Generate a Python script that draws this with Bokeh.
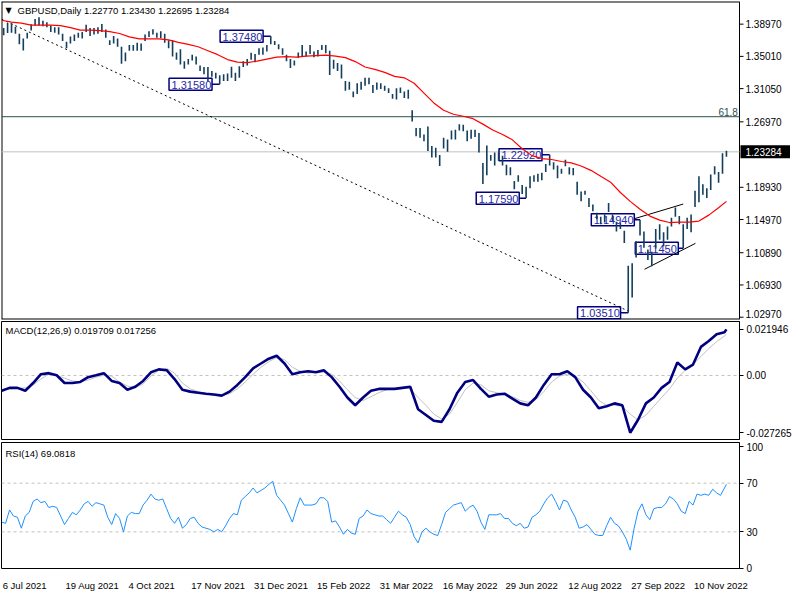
from bokeh.plotting import figure
from bokeh.models import (Range1d, FixedTicker, Span, Label, LinearAxis,
                          ColumnDataSource)
from bokeh.layouts import column
from bokeh.embed import file_html
from bokeh.resources import INLINE
from bokeh.core.properties import value

# ---------------- data ----------------
# x = trading-day index, 0 = 6 Jul 2021 ; every other daily bar is drawn
bar_day = list(range(1, 370, 2))
bar_high = [
    1.3850, 1.3910, 1.3908, 1.3866, 1.3780, 1.3720, 1.3790, 1.3895, 1.3960, 1.3983,
    1.3940, 1.3920, 1.3880, 1.3860, 1.3860, 1.3780, 1.3680, 1.3745, 1.3770, 1.3790,
    1.3800, 1.3891, 1.3850, 1.3850, 1.3860, 1.3900, 1.3830, 1.3700, 1.3750, 1.3720,
    1.3620, 1.3550, 1.3640, 1.3640, 1.3670, 1.3660, 1.3770, 1.3810, 1.3834, 1.3790,
    1.3810, 1.3780, 1.3700, 1.3700, 1.3550, 1.3590, 1.3440, 1.3470, 1.3520, 1.3500,
    1.3390, 1.3370, 1.3370, 1.3320, 1.3300, 1.3270, 1.3280, 1.3290, 1.3374, 1.3300,
    1.3380, 1.3440, 1.3470, 1.3545, 1.3530, 1.3600, 1.3610, 1.3640, 1.3748, 1.3690,
    1.3650, 1.3600, 1.3520, 1.3470, 1.3450, 1.3550, 1.3640, 1.3560, 1.3640, 1.3560,
    1.3580, 1.3640, 1.3640, 1.3570, 1.3460, 1.3420, 1.3400, 1.3200, 1.3190, 1.3070,
    1.3170, 1.3190, 1.3240, 1.3240, 1.3150, 1.3180, 1.3170, 1.3140, 1.3110, 1.3040,
    1.3110, 1.3120, 1.3070, 1.3090, 1.2840, 1.2620, 1.2620, 1.2540, 1.2640, 1.2400,
    1.2380, 1.2290, 1.2500, 1.2480, 1.2590, 1.2600, 1.2667, 1.2660, 1.2590, 1.2600,
    1.2600, 1.2560, 1.2190, 1.2406, 1.2290, 1.2320, 1.2320, 1.2280, 1.2170, 1.2140,
    1.1970, 1.2040, 1.1920, 1.1900, 1.2030, 1.2040, 1.2060, 1.2070, 1.2180, 1.2293,
    1.2200, 1.2160, 1.2120, 1.2230, 1.2140, 1.2130, 1.1960, 1.1840, 1.1850, 1.1760,
    1.1680, 1.1580, 1.1530, 1.1560, 1.1700, 1.1560, 1.1470, 1.1460, 1.1360, 1.0930,
    1.0960, 1.1230, 1.1495, 1.1350, 1.1130, 1.1100, 1.1380, 1.1440, 1.1340, 1.1410,
    1.1520, 1.1645, 1.1540, 1.1440, 1.1520, 1.1560, 1.1850, 1.2029, 1.1930, 1.1880,
    1.2050, 1.2150, 1.2080, 1.2310, 1.2343]
bar_low = [
    1.3760, 1.3787, 1.3790, 1.3780, 1.3650, 1.3572, 1.3720, 1.3818, 1.3880, 1.3880,
    1.3870, 1.3860, 1.3800, 1.3790, 1.3770, 1.3690, 1.3602, 1.3660, 1.3690, 1.3730,
    1.3720, 1.3800, 1.3750, 1.3770, 1.3780, 1.3800, 1.3730, 1.3640, 1.3660, 1.3620,
    1.3412, 1.3440, 1.3570, 1.3570, 1.3570, 1.3570, 1.3690, 1.3740, 1.3770, 1.3730,
    1.3725, 1.3670, 1.3600, 1.3500, 1.3460, 1.3400, 1.3350, 1.3400, 1.3450, 1.3400,
    1.3320, 1.3280, 1.3195, 1.3250, 1.3230, 1.3160, 1.3200, 1.3200, 1.3240, 1.3200,
    1.3240, 1.3370, 1.3390, 1.3460, 1.3430, 1.3520, 1.3520, 1.3560, 1.3650, 1.3640,
    1.3590, 1.3520, 1.3440, 1.3358, 1.3390, 1.3480, 1.3500, 1.3500, 1.3530, 1.3490,
    1.3500, 1.3580, 1.3540, 1.3273, 1.3350, 1.3320, 1.3230, 1.3080, 1.3090, 1.3000,
    1.3040, 1.3090, 1.3140, 1.3160, 1.3050, 1.3090, 1.3100, 1.3080, 1.3050, 1.2980,
    1.2970, 1.3050, 1.2990, 1.2980, 1.2700, 1.2520, 1.2500, 1.2460, 1.2340, 1.2260,
    1.2260, 1.2155, 1.2370, 1.2330, 1.2480, 1.2480, 1.2590, 1.2580, 1.2460, 1.2490,
    1.2510, 1.2320, 1.1934, 1.2040, 1.2220, 1.2160, 1.2220, 1.2160, 1.2040, 1.2040,
    1.1870, 1.1960, 1.1810, 1.1760, 1.1880, 1.1960, 1.1960, 1.1980, 1.2080, 1.2160,
    1.2110, 1.2005, 1.2060, 1.2150, 1.2050, 1.2040, 1.1800, 1.1720, 1.1800, 1.1650,
    1.1600, 1.1500, 1.1440, 1.1460, 1.1590, 1.1480, 1.1350, 1.1380, 1.1210, 1.0351,
    1.0540, 1.1030, 1.1300, 1.1150, 1.1000, 1.0924, 1.1140, 1.1250, 1.1170, 1.1250,
    1.1410, 1.1530, 1.1440, 1.1145, 1.1380, 1.1340, 1.1650, 1.1710, 1.1800, 1.1760,
    1.1860, 1.2050, 1.1950, 1.2060, 1.22695]

ma_day = list(range(0, 366, 5)) + [369]
ma_val = [
    1.3945, 1.3921, 1.3909, 1.3885, 1.3885, 1.3885, 1.3879, 1.3855, 1.3824, 1.3824,
    1.3818, 1.3806, 1.3782, 1.3740, 1.3716, 1.3716, 1.3716, 1.3703, 1.3673, 1.3649,
    1.3619, 1.3571, 1.3522, 1.3462, 1.3431, 1.3425, 1.3443, 1.3468, 1.3492, 1.3498,
    1.3492, 1.3504, 1.3510, 1.3516, 1.3504, 1.3486, 1.3437, 1.3371, 1.3341, 1.3304,
    1.3256, 1.3238, 1.3171, 1.3050, 1.2929, 1.2839, 1.2790, 1.2766, 1.2736, 1.2669,
    1.2597, 1.2542, 1.2476, 1.2367, 1.2282, 1.2246, 1.2234, 1.2210, 1.2192, 1.2155,
    1.2101, 1.2028, 1.1956, 1.1829, 1.1720, 1.1623, 1.1539, 1.1490, 1.1460, 1.1466,
    1.1466, 1.1478, 1.1551, 1.1641, 1.1720]

macd_day = list(range(0, 369, 4)) + [369]
macd_main = [v / 1000 for v in [
    -7.3, -5.9, -5.9, -7.3, -3.6, 0.6, 1.1, 0.1, -3.6, -3.6,
    -3.1, -0.8, 0.1, 1.1, -2.6, -3.6, -6.8, -5.4, -2.6, 1.5,
    2.9, 2.5, -1.7, -6.8, -7.7, -8.2, -8.7, -9.1, -9.6, -7.7,
    -4.5, -0.8, 3.4, 5.7, 8.0, 9.4, 5.7, 0.6, 1.5, 2.0,
    1.5, 2.5, -0.8, -5.4, -10.5, -14.2, -10.5, -7.3, -6.4, -6.4,
    -6.4, -5.9, -5.4, -16.1, -18.8, -21.6, -22.1, -16.1, -8.2, -3.1,
    -2.2, -6.4, -10.1, -9.1, -8.7, -11.0, -13.3, -14.2, -10.5, -4.5,
    0.6, 0.6, 2.0, -0.8, -6.8, -10.5, -15.6, -14.7, -13.3, -14.2,
    -27.265, -21.1, -13.3, -10.5, -5.9, -3.1, 6.2, 2.9, 5.2, 13.6,
    16.4, 19.6, 20.6, 21.946]]
macd_signal = [v / 1000 for v in [
    -6.8, -6.4, -6.1, -5.9, -4.5, -1.7, 0.6, 0.1, -1.3, -2.6,
    -3.1, -2.2, -0.8, 0.1, -0.3, -3.1, -5.0, -5.9, -4.0, -0.3,
    2.5, 3.4, 1.1, -3.6, -6.4, -7.7, -8.7, -9.4, -9.6, -8.7,
    -6.4, -3.1, 0.6, 3.9, 6.6, 8.5, 7.6, 3.9, 2.0, 1.1,
    1.5, 1.5, 0.6, -2.6, -6.8, -10.5, -11.9, -10.1, -8.2, -6.8,
    -6.4, -5.9, -6.4, -10.5, -14.2, -18.4, -20.7, -18.4, -12.8, -6.8,
    -3.6, -4.5, -7.3, -8.2, -8.7, -10.1, -11.9, -12.8, -11.5, -7.7,
    -3.1, -0.3, 0.6, -0.3, -3.1, -7.3, -11.9, -14.2, -14.2, -14.7,
    -18.4, -21.2, -18.9, -14.7, -10.5, -6.4, -1.3, 2.5, 5.3, 9.0,
    12.8, 16.1, 18.8, 19.6]]

rsi_day = list(range(0, 369, 2)) + [369]
rsi_val = [
    38, 37, 48, 43, 42, 33, 43, 46, 55, 57,
    54, 55, 50, 51, 50, 43, 36, 41, 46, 44,
    48, 53, 55, 51, 54, 53, 52, 42, 36, 45,
    41, 30, 43, 46, 45, 45, 52, 56, 61, 57,
    56, 57, 49, 41, 37, 42, 33, 36, 41, 42,
    37, 34, 33, 32, 30, 32, 30, 35, 41, 45,
    44, 56, 59, 62, 66, 62, 64, 66, 69, 71.5,
    60, 56, 52, 45, 38, 49, 58, 52, 52, 52,
    53, 58, 58, 55, 38, 39, 34, 28, 32, 29,
    28, 41, 43, 48, 45, 44, 43, 43, 40, 37,
    42, 47, 44, 42, 36, 26, 21, 30, 33, 30,
    28, 27, 36, 46, 49, 52, 53, 54, 47, 50,
    52, 47, 38, 32, 44, 44, 44, 45, 41, 41,
    37, 35, 37, 33, 34, 42, 44, 47, 53, 58,
    61, 55, 48, 56, 55, 48, 42, 33, 34, 36,
    32, 28, 27, 27, 35, 42, 37, 35, 30, 24,
    15, 33, 47, 53, 44, 40, 49, 50, 50, 53,
    59, 57, 53, 47, 45, 55, 52, 61, 60, 61,
    60, 65, 62, 60, 66, 69.0818]

price_ticks = [1.3897, 1.3501, 1.3105, 1.2697, 1.1893, 1.1497, 1.1089, 1.0693, 1.0297]
last_price = 1.23284
fib_level = 1.2760
fib_text = "61.8"
header_main = "GBPUSD,Daily 1.22770 1.23430 1.22695 1.23284"
header_macd = "MACD(12,26,9) 0.019709 0.017256"
header_rsi = "RSI(14) 69.0818"
macd_ticks = [-0.027265, 0.0, 0.021946]
rsi_ticks = [0, 30, 70, 100]
date_ticks = [0, 32, 64, 96, 128, 160, 192, 224, 256, 288, 320, 352]
date_labels = ["6 Jul 2021", "19 Aug 2021", "4 Oct 2021", "17 Nov 2021", "31 Dec 2021",
               "15 Feb 2022", "31 Mar 2022", "16 May 2022", "29 Jun 2022", "12 Aug 2022",
               "27 Sep 2022", "10 Nov 2022"]

# swing-point labels: value, bar of the swing, day where the label box starts
swing_val = [1.3748, 1.3158, 1.2292, 1.1759, 1.1494, 1.1145, 1.0351]
swing_text = ["1.37480", "1.31580", "1.22920", "1.17590", "1.14940", "1.11450", "1.03510"]
swing_day = [137, 111, 279, 267, 325, 347, 319]
swing_box_day = [111.2, 85.2, 253.2, 241.6, 300.2, 322.6, 293.2]

trend_day = [0, 319]
trend_val = [1.3957, 1.0373]
chan_up_day = [322, 347]
chan_up_val = [1.1506, 1.1687]
chan_lo_day = [327.3, 353.2]
chan_lo_val = [1.0886, 1.1204]

# ---------------- style ----------------
FONT = "Liberation Sans"
FW = 738          # chart frame width (px)
AXW = 51          # price-scale strip of the main panel (px)
H1, H2, H3 = 318, 118, 126
X0, X1 = -0.1, 375.65
Y0, Y1 = 1.02688, 1.41752
BAR = "#133f5c"
NAVY = "#000080"
HDR_PX = "9.5px"
px_per_day = FW / (X1 - X0)
px_per_price = H1 / (Y1 - Y0)

x_range = Range1d(X0, X1)


def style_axis(ax):
    ax.axis_line_color = "black"
    ax.major_tick_in = 0
    ax.major_tick_out = 4
    ax.minor_tick_line_color = None
    ax.major_label_text_font = FONT
    ax.major_label_text_font_size = "10px"
    ax.major_label_text_color = "black"
    ax.major_label_standoff = 3


def base(fh, yr, top=1, bottom=1):
    p = figure(frame_width=FW, frame_height=fh, x_range=x_range, y_range=yr,
               y_axis_location="right", x_axis_location=None,
               output_backend="svg", toolbar_location=None,
               min_border_left=1, min_border_top=top, min_border_bottom=bottom,
               min_border_right=0, background_fill_color="white",
               border_fill_color="white")
    p.xgrid.visible = False
    p.ygrid.visible = False
    p.outline_line_color = "black"
    p.outline_line_width = 1
    style_axis(p.yaxis[0])
    return p


# ---------- main price panel (its price scale drawn inside an extended frame) ----------
XR = X1 + AXW / px_per_day
p1 = figure(frame_width=FW + AXW, frame_height=H1, x_range=Range1d(X0, XR),
            y_range=Range1d(Y0, Y1), x_axis_location=None, y_axis_location=None,
            output_backend="svg", toolbar_location=None, min_border_left=1,
            min_border_top=1, min_border_bottom=1, min_border_right=0,
            background_fill_color="white", border_fill_color="white")
p1.xgrid.visible = False
p1.ygrid.visible = False
p1.outline_line_color = None

# frame of the chart area
p1.segment(x0=[X0, X0, X0], y0=[Y0, Y1, Y0], x1=[X1, X1, X0], y1=[Y0, Y1, Y1],
           line_color="black", line_width=2)
p1.segment(x0=[X1], y0=[Y0], x1=[X1], y1=[Y1], line_color="black", line_width=1)

# horizontal levels
p1.segment(x0=[X0], y0=[fib_level], x1=[X1], y1=[fib_level], line_color="#2f4f4f",
           line_width=1)
p1.segment(x0=[X0], y0=[last_price], x1=[X1], y1=[last_price], line_color="#c0c0c0",
           line_width=1)
p1.text(x=[X1 - 0.8], y=[fib_level], text=[fib_text], text_align="right",
        text_baseline="bottom", y_offset=-1, text_font=value(FONT),
        text_font_size="10px", text_color="#2f4f4f")

# swing labels (box + text + connector)
box_w = 43 / px_per_day
box_h = 12 / px_per_price
p1.quad(left=swing_box_day, right=[b + box_w for b in swing_box_day],
        bottom=[v - box_h / 2 for v in swing_val], top=[v + box_h / 2 for v in swing_val],
        fill_color=None, line_color=NAVY, line_width=1.5)
p1.segment(x0=[b + box_w for b in swing_box_day], y0=swing_val, x1=swing_day, y1=swing_val,
           line_color=NAVY, line_width=1.5)
p1.text(x=swing_box_day, y=swing_val, text=swing_text, x_offset=2.5, y_offset=0.5,
        text_align="left", text_baseline="middle", text_font=value(FONT),
        text_font_size="11px", text_color="#2828a8")

p1.line(trend_day, trend_val, line_color="black", line_width=1, line_dash="2 3")
p1.line(chan_up_day, chan_up_val, line_color="black", line_width=1)
p1.line(chan_lo_day, chan_lo_val, line_color="black", line_width=1)

bars = ColumnDataSource(dict(day=bar_day, high=bar_high, low=bar_low))
p1.segment(x0="day", y0="low", x1="day", y1="high", source=bars,
           line_color=BAR, line_width=1.6)
p1.line(ma_day, ma_val, line_color="#ff0000", line_width=1.2)

# price scale: ticks, labels, current-price box
tick_len = 4 / px_per_day
p1.segment(x0=[X1] * len(price_ticks), y0=price_ticks,
           x1=[X1 + tick_len] * len(price_ticks), y1=price_ticks, line_color="black")
label_off = [(-3 if (t - Y0) * px_per_price < 7 else 0) for t in price_ticks]
p1.text(x=[X1] * len(price_ticks), y=price_ticks, text=["%.5f" % t for t in price_ticks],
        x_offset=6, y_offset=label_off, text_align="left", text_baseline="middle",
        text_font=value(FONT), text_font_size="10px", text_color="black")
p1.quad(left=[X1 + 1 / px_per_day], right=[XR], bottom=[last_price - 6.5 / px_per_price],
        top=[last_price + 6.5 / px_per_price], fill_color="black", line_color=None)
p1.text(x=[X1], y=[last_price], text=["%.5f" % last_price], x_offset=6,
        text_align="left", text_baseline="middle", text_font=value(FONT),
        text_font_size="10px", text_color="white")

p1.add_layout(Label(x=4, y=H1 - 9, x_units="screen", y_units="screen", text="\u25bc",
                    text_font="DejaVu Sans", text_font_size="8px", text_color="black",
                    text_baseline="middle"))
p1.add_layout(Label(x=16, y=H1 - 9, x_units="screen", y_units="screen", text=header_main,
                    text_font=FONT, text_font_size=HDR_PX, text_color="black",
                    text_baseline="middle"))

# ---------- MACD panel ----------
p2 = base(H2, Range1d(-0.0305, 0.0257))
p2.yaxis[0].ticker = FixedTicker(ticks=macd_ticks)
p2.yaxis[0].major_label_overrides = {t: ("0.00" if t == 0 else "%.6f" % t) for t in macd_ticks}
p2.add_layout(Span(location=0, dimension="width", line_color="#c0c0c0",
                   line_width=1, line_dash="3 3", level="underlay"))
p2.line(macd_day, macd_signal, line_color="#c0c0c0", line_width=1)
p2.line(macd_day, macd_main, line_color=NAVY, line_width=2.6)
p2.add_layout(Label(x=4, y=H2 - 9, x_units="screen", y_units="screen", text=header_macd,
                    text_font=FONT, text_font_size=HDR_PX, text_color="black",
                    text_baseline="middle"))

# ---------- RSI panel ----------
p3 = base(H3, Range1d(-0.1, 103.4), top=2, bottom=20)
p3.yaxis[0].ticker = FixedTicker(ticks=rsi_ticks)
for lv in (30, 70):
    p3.add_layout(Span(location=lv, dimension="width", line_color="#c0c0c0",
                       line_width=1, line_dash="3 3", level="underlay"))
p3.line(rsi_day, rsi_val, line_color="#1e90ff", line_width=1)
p3.add_layout(Label(x=4, y=H3 - 11, x_units="screen", y_units="screen", text=header_rsi,
                    text_font=FONT, text_font_size=HDR_PX, text_color="black",
                    text_baseline="middle"))

# date axis: labels start at their date (as in the terminal), so centre each label
# half its width to the right of the date
DATE_PX = 9.5
CW = {" ": .278, ".": .278, "J": .5, "A": .667, "O": .778, "N": .722, "D": .722,
      "F": .611, "M": .833, "S": .667, "u": .556, "l": .222, "g": .556, "c": .5,
      "t": .278, "o": .556, "v": .5, "e": .556, "b": .556, "a": .556, "r": .333,
      "y": .5, "n": .556, "p": .556}


def text_w(s):
    return sum(CW.get(ch, .556) for ch in s) * DATE_PX


centres = [round(d + (text_w(s) / 2 + 1) / px_per_day, 3) for d, s in zip(date_ticks, date_labels)]
dax = LinearAxis(ticker=FixedTicker(ticks=centres),
                 major_label_overrides={c: s for c, s in zip(centres, date_labels)})
dax.axis_line_color = None
dax.major_tick_line_color = None
dax.minor_tick_line_color = None
dax.major_label_standoff = 5
dax.major_label_text_font = FONT
dax.major_label_text_font_size = "%gpx" % DATE_PX
dax.major_label_text_color = "black"
p3.add_layout(dax, "below")

layout = column(p1, p2, p3, spacing=0)
open("out.html", "w").write(file_html(layout, INLINE))
